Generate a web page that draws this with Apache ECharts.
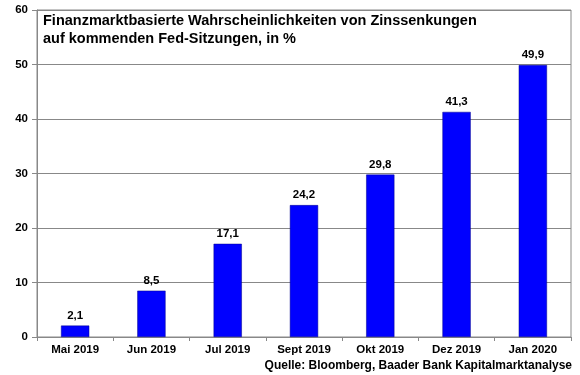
<!DOCTYPE html>
<html><head><meta charset="utf-8">
<script src="https://cdn.jsdelivr.net/npm/echarts@6/dist/echarts.min.js"></script>
<style>html,body{margin:0;padding:0;background:#fff}#c{width:580px;height:375px}</style>
</head><body><div id="c"></div>
<script>
const categories = ['Mai 2019','Jun 2019','Jul 2019','Sept 2019','Okt 2019','Dez 2019','Jan 2020'];
const values = [2.1, 8.5, 17.1, 24.2, 29.8, 41.3, 49.9];
const titleLines = ['Finanzmarktbasierte Wahrscheinlichkeiten von Zinssenkungen','auf kommenden Fed-Sitzungen, in %'];
const sourceText = 'Quelle: Bloomberg, Baader Bank Kapitalmarktanalyse';
const F = '"Liberation Sans", Arial, sans-serif';
const chart = echarts.init(document.getElementById('c'), null, {renderer:'canvas'});
chart.setOption({
  animation:false,
  backgroundColor:'#fff',
  title:[{text:titleLines.join('\n'), left:38, top:7, textStyle:{fontFamily:F, fontSize:14.5, fontWeight:'bold', color:'#000', lineHeight:18}},
         {text:sourceText, right:3, top:355, textStyle:{fontFamily:F, fontSize:12, fontWeight:'bold', color:'#000'}}],
  grid:{left:37, right:9, top:10, bottom:38, show:true, borderColor:'#888', borderWidth:1},
  xAxis:{type:'category', data:categories,
    axisLine:{lineStyle:{color:'#888'}},
    axisTick:{show:true, length:4, lineStyle:{color:'#888'}},
    axisLabel:{fontFamily:F, fontSize:11.5, fontWeight:'bold', color:'#000', margin:7}},
  yAxis:{type:'value', min:0, max:60, interval:10,
    axisLine:{show:true, lineStyle:{color:'#888'}},
    axisTick:{show:true, length:5, lineStyle:{color:'#888'}},
    splitLine:{lineStyle:{color:'#888'}},
    axisLabel:{fontFamily:F, fontSize:11.5, fontWeight:'bold', color:'#000', margin:9}},
  series:[{type:'bar', data:values, barWidth:'37%',
    itemStyle:{color:'#0000ff', borderColor:'#00008a', borderWidth:0.5},
    label:{show:true, position:'top', distance:4, fontFamily:F, fontSize:11.5, fontWeight:'bold', color:'#000',
      formatter:p=>String(p.value).replace('.',',')}}]
});
</script></body></html>
